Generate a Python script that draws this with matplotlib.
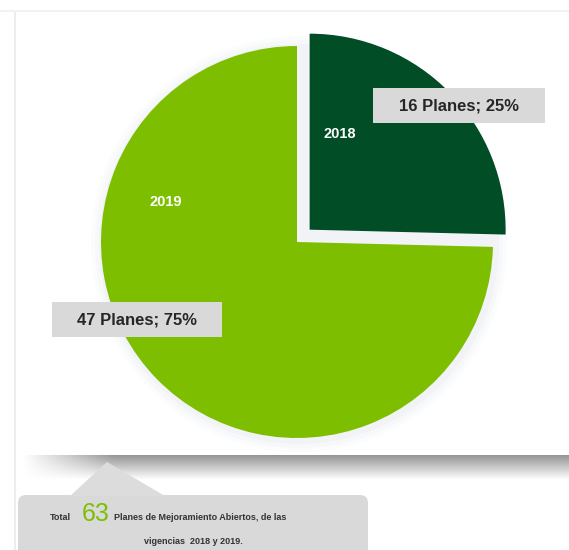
import matplotlib.pyplot as plt
import numpy as np
from matplotlib.patches import FancyBboxPatch, Polygon, Rectangle, Circle

plt.rcParams['font.family'] = ['Liberation Sans', 'DejaVu Sans']

# datos del grafico
years = ['2018', '2019']
planes = [16, 47]
colors = ['#014D26', '#7DBF00']
total = sum(planes)
W, H = 569, 550
R = 196


def Y(y):
    # convierte coordenada de pixel (desde arriba) a coordenada del eje
    return H - y


fig = plt.figure(figsize=(W / 100, H / 100), dpi=100)
ax = fig.add_axes([0, 0, 1, 1])

# panel blanco con borde y sombra inferior
ax.add_patch(Rectangle((0, Y(12)), W, 2, color='#F2F2F2', lw=0, zorder=0))
ax.add_patch(Rectangle((14, Y(550)), 2, 538, color='#EDEDED', lw=0, zorder=0))
shadow = np.ones((30, 200, 4))
shadow[..., :3] = 0.45
va = np.linspace(0.75, 0, 30)[:, None]
ha = np.clip(np.linspace(0, 6, 200), 0, 1)[None, :]
shadow[..., 3] = va * ha
ax.imshow(shadow, extent=[22, W, Y(480), Y(455)], aspect='auto', zorder=1,
          interpolation='bilinear')

# halo suave alrededor del pie
for k, a in enumerate([0.05, 0.04, 0.03]):
    ax.add_patch(Circle((299, Y(244)), R + 4 * (k + 1), color='#9AA0C8',
                        alpha=a, lw=0, zorder=2))

# explode en unidades de datos (fraccion del radio)
wedges, _ = ax.pie(planes, colors=colors, startangle=90, counterclock=False,
                   explode=[0.09 * R, 0], center=(297, Y(242)), radius=R,
                   frame=True, wedgeprops=dict(linewidth=0))
for w in wedges:
    w.set_zorder(3)

# etiquetas de anio
ax.text(340, Y(134), years[0], color='white', fontsize=10.5, fontweight='bold',
        ha='center', va='center', zorder=5)
ax.text(166, Y(202), years[1], color='white', fontsize=10.5, fontweight='bold',
        ha='center', va='center', zorder=5)

# etiquetas de datos
lbl_pos = [(459, 106, 373, 88, 172, 35), (137, 320, 52, 302, 170, 35)]
for n, (tx, ty, bx, by, bw, bh) in zip(planes, lbl_pos):
    ax.add_patch(Rectangle((bx, Y(by + bh)), bw, bh, color='#D9D9D9', lw=0,
                           zorder=4))
    ax.text(tx, Y(ty), f'{n} Planes; {round(n / total * 100)}%', fontsize=12,
            fontweight='bold', color='#262626', ha='center', va='center',
            zorder=5)

# recuadro inferior con total
ax.add_patch(FancyBboxPatch((18, Y(560)), 350, 65,
                            boxstyle='round,pad=0,rounding_size=8',
                            fc='#D9D9D9', ec='none', zorder=4))
ax.add_patch(Polygon([(107, Y(462)), (70, Y(496)), (165, Y(496))],
                     closed=True, fc='#DCDCDC', ec='none', zorder=4))
ax.text(50, Y(520), 'Total', fontsize=6.5, fontweight='bold', color='#333333',
        va='baseline', zorder=5)
ax.text(82, Y(521), str(total), fontsize=18, color='#7DBF00', va='baseline',
        zorder=5)
ax.text(114, Y(520), 'Planes de Mejoramiento Abiertos, de las', fontsize=6.5,
        fontweight='bold', color='#333333', va='baseline', zorder=5)
ax.text(193, Y(541), f'vigencias  {years[0]} y {years[1]}.', fontsize=6.5,
        fontweight='bold', color='#333333', ha='center', va='center', zorder=5)

ax.set_xlim(0, W)
ax.set_ylim(0, H)
ax.set_aspect('auto')
ax.axis('off')
fig.savefig('out.png', dpi=100, facecolor='white')
